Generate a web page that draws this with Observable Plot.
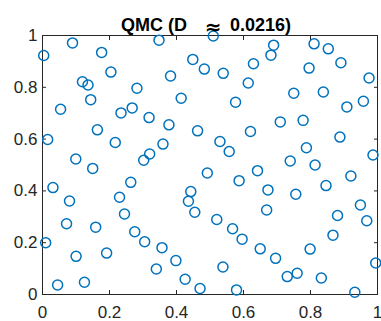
<!DOCTYPE html>
<html>
<head>
<meta charset="utf-8">
<script src="https://cdn.jsdelivr.net/npm/d3@7"></script>
<script src="https://cdn.jsdelivr.net/npm/@observablehq/plot@0.6"></script>
<style>
  html, body { margin: 0; padding: 0; background: #fff; }
  #chart svg { display: block; }
</style>
</head>
<body>
<div id="chart"></div>
<script>
const titleParts = ["QMC (D", "\u2248", "0.0216)"];
const tickValues = [0, 0.2, 0.4, 0.6, 0.8, 1];
const tickLabels = ["0", "0.2", "0.4", "0.6", "0.8", "1"];

const xs = [
  0.0036, 0.0896, 0.1766, 0.2042, 0.1193, 0.1359, 0.2819, 0.1439, 0.0540, 0.2344,
  0.2677, 0.3181, 0.1638, 0.3478, 0.5098, 0.4487, 0.4831, 0.5395, 0.6297, 0.3822,
  0.6142, 0.4140, 0.5763, 0.3774, 0.4629, 0.6899, 0.6819, 0.8107, 0.8531, 0.7958,
  0.8908, 0.9748, 0.7501, 0.8383, 0.9086, 0.9579, 0.7098, 0.7780, 0.0154, 0.2172,
  0.0994, 0.3021, 0.3199, 0.1499, 0.0312, 0.2635, 0.0807, 0.2300, 0.2448, 0.6208,
  0.5297, 0.5573, 0.3596, 0.4920, 0.6418, 0.5869, 0.4427, 0.4356, 0.4546, 0.5202,
  0.8878, 0.7878, 0.9866, 0.7395, 0.8137, 0.9205, 0.6730, 0.7561, 0.8463, 0.9490,
  0.6691, 0.8807, 0.9680, 0.0718, 0.1588, 0.2754, 0.3050, 0.0095, 0.1003, 0.1914,
  0.0451, 0.1252, 0.5674, 0.5958, 0.6499, 0.3567, 0.3982, 0.3398, 0.5386, 0.4258,
  0.4703, 0.5792, 0.8671, 0.6958, 0.7988, 0.7306, 0.7602, 0.8323, 0.9323, 0.9947
];
const ys = [
  0.9230, 0.9715, 0.9346, 0.8588, 0.8215, 0.8088, 0.7962, 0.7523, 0.7154, 0.7012,
  0.7204, 0.6831, 0.6358, 0.9819, 0.9980, 0.9077, 0.8704, 0.8538, 0.8908, 0.8435,
  0.8165, 0.7577, 0.7423, 0.6550, 0.6319, 0.9627, 0.9242, 0.9677, 0.9485, 0.8742,
  0.8946, 0.8358, 0.7769, 0.7819, 0.7242, 0.7462, 0.6665, 0.6723, 0.5985, 0.5869,
  0.5231, 0.5185, 0.5423, 0.4869, 0.4127, 0.4331, 0.3608, 0.3754, 0.3108, 0.6292,
  0.5908, 0.5523, 0.5808, 0.4692, 0.4781, 0.4396, 0.3973, 0.3600, 0.3177, 0.2896,
  0.6077, 0.5665, 0.5385, 0.5154, 0.5000, 0.4577, 0.4038, 0.3869, 0.4204, 0.3454,
  0.3262, 0.3050, 0.2846, 0.2731, 0.2600, 0.2423, 0.2038, 0.2000, 0.1473, 0.1600,
  0.0369, 0.0473, 0.2538, 0.2138, 0.1762, 0.1808, 0.1308, 0.0985, 0.1062, 0.0588,
  0.0231, 0.0177, 0.2292, 0.1396, 0.1754, 0.0692, 0.0819, 0.0638, 0.0088, 0.1215
];

const points = xs.map((x, i) => ({x, y: ys[i]}));
const fmt = d => tickLabels[tickValues.indexOf(d)];
const axisColor = "#262626";
const blue = "#0072BD";
const titleFont = "'Liberation Sans', Arial, sans-serif";

const chart = Plot.plot({
  width: 381,
  height: 321,
  marginLeft: 42,
  marginRight: 4,
  marginTop: 35,
  marginBottom: 27,
  style: {fontFamily: "'Liberation Sans', Arial, sans-serif", color: axisColor, background: "#fff"},
  x: {domain: [0, 1]},
  y: {domain: [0, 1]},
  marks: [
    Plot.axisX({anchor: "bottom", ticks: tickValues, tickFormat: fmt, tickSize: -4, tickPadding: 15, fontSize: 17, label: null, stroke: axisColor, fill: axisColor}),
    Plot.axisX({anchor: "top", ticks: tickValues, tickFormat: () => "", tickSize: -4, label: null, stroke: axisColor}),
    Plot.axisY({anchor: "left", ticks: tickValues, tickFormat: fmt, tickSize: -4, tickPadding: 9, fontSize: 17, label: null, stroke: axisColor, fill: axisColor}),
    Plot.axisY({anchor: "right", ticks: tickValues, tickFormat: () => "", tickSize: -4, label: null, stroke: axisColor}),
    Plot.frame({stroke: axisColor, strokeWidth: 1}),
    Plot.dot(points, {x: "x", y: "y", r: 5, stroke: blue, strokeWidth: 1.5, fill: "none"}),
    Plot.text([titleParts[0]], {frameAnchor: "top", textAnchor: "end", dx: -23, dy: -17, fontSize: 18, fontWeight: "bold", fill: "#000", fontFamily: titleFont}),
    Plot.text([titleParts[1]], {frameAnchor: "top", textAnchor: "middle", dx: 3, dy: -16, fontSize: 20, fontWeight: "bold", fill: "#000", fontFamily: "'DejaVu Sans', sans-serif"}),
    Plot.text([titleParts[2]], {frameAnchor: "top", textAnchor: "start", dx: 20, dy: -17, fontSize: 18, fontWeight: "bold", fill: "#000", fontFamily: titleFont})
  ]
});
document.getElementById("chart").appendChild(chart);
</script>
</body>
</html>
